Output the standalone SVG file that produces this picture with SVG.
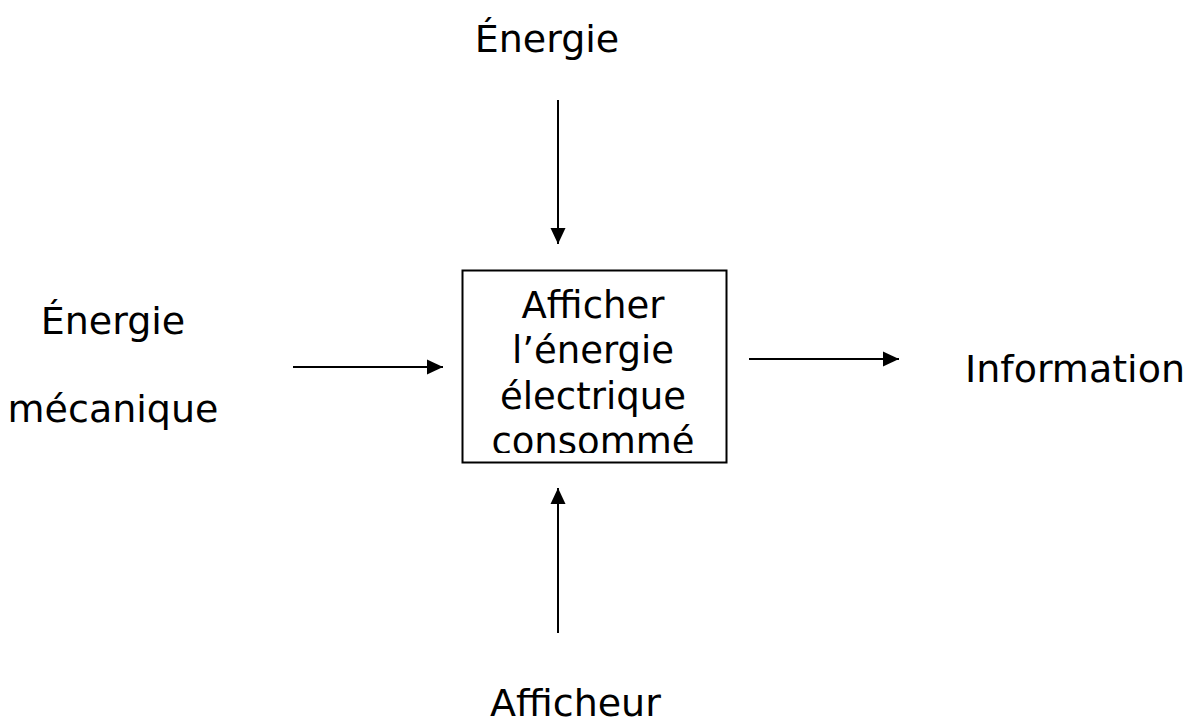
<svg xmlns="http://www.w3.org/2000/svg" width="1195" height="722" viewBox="0 0 1195 722">
<style>
text{font-family:"DejaVu Sans","Verdana",sans-serif;font-size:38px;fill:#000}
.c{text-anchor:middle}
.in{font-size:37px}
.ln{stroke:#000;stroke-width:2;fill:none}
</style>
<defs>
<marker id="ah" markerUnits="userSpaceOnUse" markerWidth="16" markerHeight="16" refX="16" refY="8" orient="auto">
<path d="M0,0.5 L16,8 L0,15.5 Z" fill="#000"/>
</marker>
<clipPath id="boxclip"><rect x="462" y="270" width="264" height="183"/></clipPath>
</defs>
<rect width="1195" height="722" fill="#fff"/>
<g id="node-main">
<rect x="462.5" y="270.5" width="264" height="192" fill="#fff" stroke="#000" stroke-width="2"/>
<g clip-path="url(#boxclip)">
<text class="c in" x="593" y="318">Afficher</text>
<text class="c in" x="593" y="363">l’énergie</text>
<text class="c in" x="593" y="408.5">électrique</text>
<text class="c in" x="593" y="454">consommé</text>
</g>
</g>
<g id="node-energie-top"><text class="c" x="547" y="52">Énergie</text></g>
<g id="node-energie-meca">
<text class="c" x="113" y="334">Énergie</text>
<text class="c" x="113" y="422">mécanique</text>
</g>
<g id="node-information"><text x="965" y="382">Information</text></g>
<g id="node-afficheur"><text x="490" y="716">Afficheur</text></g>
<g id="connectors">
<line class="ln" x1="558" y1="100" x2="558" y2="244" marker-end="url(#ah)"/>
<line class="ln" x1="293" y1="367" x2="443" y2="367" marker-end="url(#ah)"/>
<line class="ln" x1="749" y1="359" x2="899" y2="359" marker-end="url(#ah)"/>
<line class="ln" x1="558" y1="633" x2="558" y2="488" marker-end="url(#ah)"/>
</g>
</svg>
